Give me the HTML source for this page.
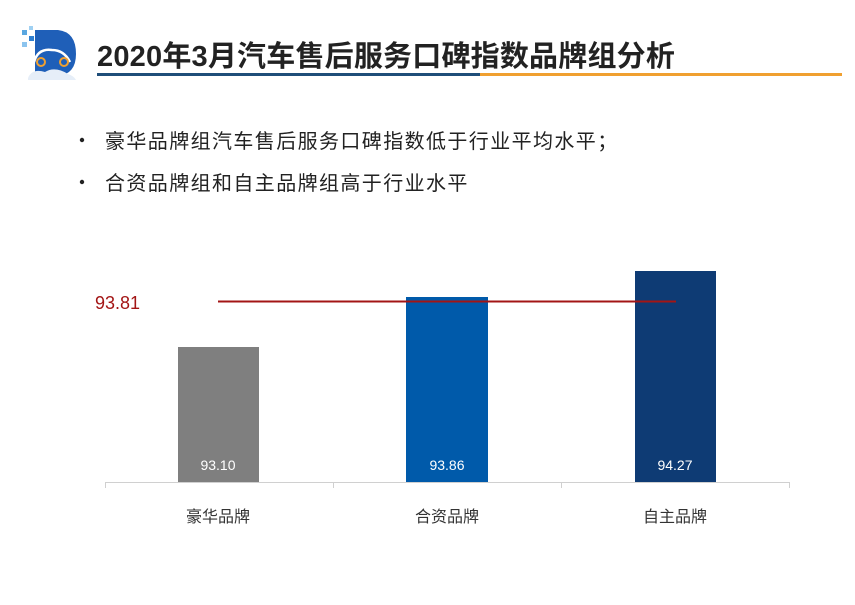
<!DOCTYPE html>
<html><head><meta charset="utf-8"><style>
body{margin:0;width:855px;height:605px;background:#fff;position:relative;overflow:hidden;font-family:"Liberation Sans","Noto Sans CJK SC",sans-serif}
.a{position:absolute}
</style></head><body>
<svg class="a" style="left:0;top:0" width="855" height="605">
  <rect x="22" y="30" width="5" height="5" fill="#5aa7e0"/>
  <rect x="29" y="36" width="5" height="5" fill="#2f7fd0"/>
  <rect x="22" y="42" width="5" height="5" fill="#8cc4ee"/>
  <rect x="29" y="26" width="4" height="4" fill="#9fd0f2"/>
  <path d="M35 30 H58 Q76 32 76 54 Q76 74 58 76 H35 Z" fill="#1f5fb8"/>
  <path d="M28 78 Q32 68 45 72 Q55 66 68 74 Q74 76 76 80 H28 Z" fill="#e6eef8"/>
  <path d="M34 62 Q38 48 52 50 Q64 50 70 62" stroke="#fff" stroke-width="2.5" fill="none"/>
  <circle cx="41" cy="62" r="4" stroke="#f0a030" stroke-width="2" fill="none"/>
  <circle cx="64" cy="62" r="4" stroke="#f0a030" stroke-width="2" fill="none"/>
  <rect x="97" y="73" width="383" height="3" fill="#1f4e79"/>
  <rect x="480" y="73" width="362" height="3" fill="#f0a030"/>
  <line x1="105" y1="482.5" x2="790" y2="482.5" stroke="#d0d0d0" stroke-width="1"/>
  <line x1="105.5" y1="482" x2="105.5" y2="488" stroke="#d0d0d0"/>
  <line x1="333.5" y1="482" x2="333.5" y2="488" stroke="#d0d0d0"/>
  <line x1="561.5" y1="482" x2="561.5" y2="488" stroke="#d0d0d0"/>
  <line x1="789.5" y1="482" x2="789.5" y2="488" stroke="#d0d0d0"/>
  <rect x="178" y="347" width="81" height="135" fill="#7f7f7f"/>
  <rect x="406" y="297" width="82" height="185" fill="#005aaa"/>
  <rect x="635" y="271" width="81" height="211" fill="#0e3b74"/>
  <line x1="218" y1="301.5" x2="676" y2="301.5" stroke="#a31515" stroke-width="2"/>
  <g font-family="Liberation Sans, sans-serif" font-size="14" fill="#fff" text-anchor="middle">
    <text x="218" y="470">93.10</text>
    <text x="447" y="470">93.86</text>
    <text x="675" y="470">94.27</text>
  </g>
  <text x="95" y="309" font-size="18" fill="#a31515" font-family="Liberation Sans, sans-serif">93.81</text>
  <g font-family="Liberation Sans, Noto Sans CJK SC, sans-serif" font-size="16" fill="#333" text-anchor="middle">
    <text x="218" y="522">豪华品牌</text>
    <text x="447" y="522">合资品牌</text>
    <text x="675" y="522">自主品牌</text>
  </g>
  <circle cx="82" cy="140" r="2.2" fill="#222"/>
  <circle cx="82" cy="182" r="2.2" fill="#222"/>
</svg>
<div class="a" style="left:97px;top:33px;font-size:29px;font-weight:bold;color:#222;letter-spacing:0.2px;white-space:nowrap">2020年3月汽车售后服务口碑指数品牌组分析</div>
<div class="a" style="left:105px;top:125px;font-size:20px;color:#222;letter-spacing:1.4px;white-space:nowrap">豪华品牌组汽车售后服务口碑指数低于行业平均水平；</div>
<div class="a" style="left:105px;top:167px;font-size:20px;color:#222;letter-spacing:1.4px;white-space:nowrap">合资品牌组和自主品牌组高于行业水平</div>
</body></html>
